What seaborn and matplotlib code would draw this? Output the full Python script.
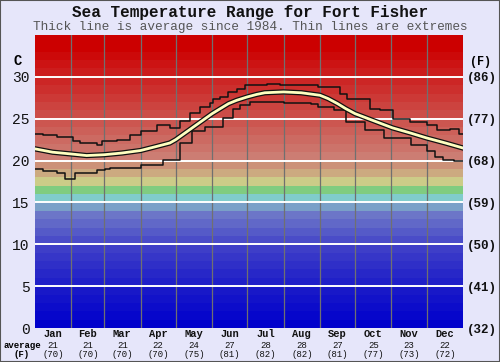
import matplotlib
matplotlib.use("Agg")
import matplotlib.pyplot as plt
import matplotlib.transforms as mtransforms
import numpy as np
import pandas as pd
import seaborn as sns
from matplotlib.patches import Rectangle

# Monthly labels along the bottom
months = ["Jan", "Feb", "Mar", "Apr", "May", "Jun", "Jul", "Aug", "Sep", "Oct", "Nov", "Dec"]
avg_c = [21, 21, 21, 22, 24, 27, 28, 28, 27, 25, 23, 22]
avg_f = [70, 70, 70, 70, 75, 81, 82, 82, 81, 77, 73, 72]
month_starts = [0, 31, 59, 90, 120, 151, 181, 212, 243, 273, 304, 334, 365]

# Average temperature (day of year, deg C)
avg_day = [0, 15, 30, 44, 59, 74, 90, 104, 115, 120, 135, 143, 151, 158, 165, 172, 181,
           189, 196, 212, 227, 243, 250, 258, 265, 273, 288, 305, 320, 334, 350, 365]
avg_temp = [21.4, 21.0, 20.8, 20.6, 20.7, 20.9, 21.2, 21.7, 22.1, 22.5, 24.0, 24.8, 25.6,
            26.2, 26.8, 27.2, 27.6, 27.9, 28.1, 28.2, 28.1, 27.8, 27.4, 26.8, 26.2, 25.6,
            24.8, 23.9, 23.3, 22.7, 22.1, 21.5]

# Highest recorded (stepped)
max_day = [0, 7, 19, 32, 38, 53, 57, 70, 81, 90, 104, 115, 124, 132, 141, 149, 152, 158,
           165, 172, 179, 198, 209, 241, 260, 266, 286, 294, 305, 320, 334, 343, 354, 362, 365]
max_temp = [23.2, 23.0, 22.8, 22.3, 22.1, 21.9, 22.3, 22.5, 23.1, 23.5, 24.3, 23.9, 24.7,
            25.7, 26.4, 26.9, 27.3, 27.6, 28.2, 28.6, 29.0, 29.2, 29.0, 28.8, 28.0, 27.3,
            26.2, 26.0, 25.0, 24.6, 24.3, 23.7, 23.8, 23.2, 23.2]

# Lowest recorded (stepped)
min_day = [0, 7, 19, 26, 34, 53, 60, 64, 90, 109, 124, 134, 145, 160, 169, 175, 183, 212,
           235, 241, 255, 265, 281, 288, 298, 321, 334, 341, 348, 357, 365]
min_temp = [19.0, 18.7, 18.5, 17.8, 18.5, 18.9, 19.0, 19.1, 19.5, 20.1, 22.1, 23.5, 24.0,
            25.1, 26.2, 26.6, 27.0, 26.9, 26.8, 26.4, 26.1, 24.6, 23.7, 23.7, 22.7, 21.9,
            21.1, 20.4, 20.1, 19.9, 19.9]

# Background colour bands, one per degree
band_anchor = [0, 4, 9, 13, 14, 15, 16, 17, 18, 19, 20, 30, 33, 35]
band_rgb = [(0, 0, 204), (24, 24, 200), (62, 62, 200), (108, 118, 200), (122, 160, 200),
            (128, 204, 204), (128, 204, 128), (204, 204, 136), (204, 170, 128),
            (204, 145, 120), (204, 125, 115), (204, 28, 28), (204, 0, 0), (204, 0, 0)]

W, H = 500, 362
bg = "#e6e6fa"
mono = "Liberation Mono"

fig = plt.figure(figsize=(W / 100, H / 100), dpi=100, facecolor=bg)
ax = fig.add_axes([35 / W, 1 - 328 / H, 428 / W, 293 / H])
ax.set_facecolor(bg)

# colour bands
for t in range(35):
    rgb = [np.interp(t, band_anchor, [c[i] for c in band_rgb]) / 255 for i in range(3)]
    ax.axhspan(t, t + 1, color=rgb, lw=0, zorder=0)

for d in month_starts[1:-1]:
    ax.axvline(d, color="#707070", lw=0.9, zorder=1)
for t in range(5, 35, 5):
    ax.axhline(t, color="white", lw=1.4, zorder=1)

df_max = pd.DataFrame({"day": max_day, "temp": max_temp})
df_min = pd.DataFrame({"day": min_day, "temp": min_temp})
df_avg = pd.DataFrame({"day": avg_day, "temp": avg_temp})

sns.lineplot(data=df_max, x="day", y="temp", color="#111111", lw=1.1, drawstyle="steps-post", ax=ax, zorder=3)
sns.lineplot(data=df_min, x="day", y="temp", color="#111111", lw=1.1, drawstyle="steps-post", ax=ax, zorder=3)
sns.lineplot(data=df_avg, x="day", y="temp", color="#111111", lw=3.8, ax=ax, zorder=4)
sns.lineplot(data=df_avg, x="day", y="temp", color="#ffffc0", lw=2.0, ax=ax, zorder=5)

ax.set_xlim(0, 365)
ax.set_ylim(0, 35)
for s in ax.spines.values():
    s.set_visible(False)
ax.set_xlabel("")
ax.set_ylabel("")

ax.set_yticks(range(0, 31, 5))
ax.set_yticklabels([str(t) for t in range(0, 31, 5)], fontfamily=mono, fontsize=10.5, color="#111111")
ax.tick_params(axis="y", length=0, pad=4)

centers = [(month_starts[i] + month_starts[i + 1]) / 2 for i in range(12)]
ax.set_xticks(centers)
ax.set_xticklabels(months, fontfamily=mono, fontsize=7.5, fontweight="bold", color="#111111")
ax.tick_params(axis="x", length=0, pad=0.5)

trans = mtransforms.blended_transform_factory(ax.transData, fig.transFigure)
for c, vc, vf in zip(centers, avg_c, avg_f):
    ax.text(c, 1 - 345.5 / H, str(vc), transform=trans, ha="center", va="center",
            fontfamily=mono, fontsize=6.5, color="#111111")
    ax.text(c, 1 - 354.5 / H, "(%d)" % vf, transform=trans, ha="center", va="center",
            fontfamily=mono, fontsize=6.5, color="#111111")

ax2 = ax.twinx()
ax2.set_ylim(0, 35)
ax2.set_yticks(range(0, 31, 5))
ax2.set_yticklabels(["(%d)" % round(t * 9 / 5 + 32) for t in range(0, 31, 5)],
                    fontfamily=mono, fontsize=9, fontweight="bold", color="#111111")
ax2.tick_params(axis="y", length=0, pad=3)
for s in ax2.spines.values():
    s.set_visible(False)

fig.text(18 / W, 1 - 61 / H, "C", ha="center", va="center", fontfamily=mono, fontsize=10, fontweight="bold")
fig.text(481 / W, 1 - 62 / H, "(F)", ha="center", va="center", fontfamily=mono, fontsize=8.5, fontweight="bold")
fig.text(22 / W, 1 - 345.5 / H, "average", ha="center", va="center", fontfamily=mono, fontsize=6.5, fontweight="bold")
fig.text(22 / W, 1 - 354.5 / H, "(F)", ha="center", va="center", fontfamily=mono, fontsize=6.5, fontweight="bold")

fig.text(0.5, 1 - 12 / H, "Sea Temperature Range for Fort Fisher", ha="center", va="center",
         fontfamily=mono, fontsize=11.5, fontweight="bold", color="#111111")
fig.text(0.5, 1 - 27 / H, "Thick line is average since 1984. Thin lines are extremes", ha="center",
         va="center", fontfamily=mono, fontsize=9.2, color="#555555")

fig.patches.append(Rectangle((0, 0), 1, 1, transform=fig.transFigure, fill=False,
                             edgecolor="#555555", lw=1.5))

fig.savefig("out.png", dpi=100, facecolor=bg)
